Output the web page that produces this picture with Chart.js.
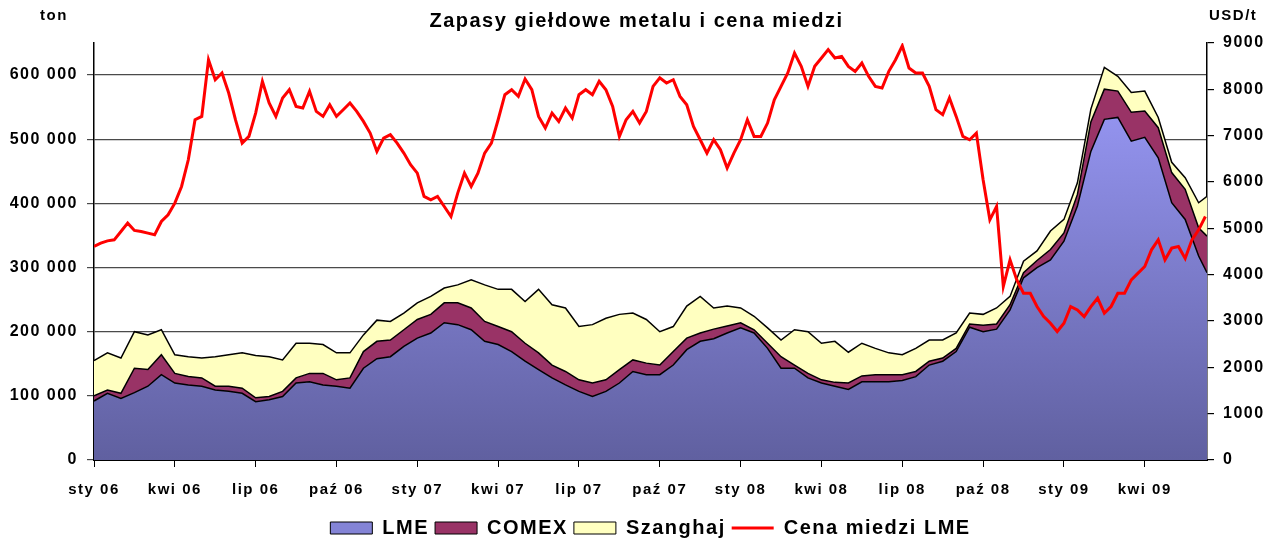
<!DOCTYPE html>
<html>
<head>
<meta charset="utf-8">
<script src="https://cdn.jsdelivr.net/npm/chart.js@4.4.1/dist/chart.umd.min.js"></script>
<style>
html,body{margin:0;padding:0;background:#fff;}
canvas{display:block;}
</style>
</head>
<body>
<canvas id="c" width="1273" height="540"></canvas>
<script>
// ---- text ----
const chartTitle = 'Zapasy giełdowe metalu i cena miedzi';
const leftUnit = 'ton';
const rightUnit = 'USD/t';

// ---- axes ----
const tickMonths = [0, 3, 6, 9, 12, 15, 18, 21, 24, 27, 30, 33, 36, 39];
const tickLabels = ['sty 06', 'kwi 06', 'lip 06', 'paź 06', 'sty 07', 'kwi 07', 'lip 07', 'paź 07',
                    'sty 08', 'kwi 08', 'lip 08', 'paź 08', 'sty 09', 'kwi 09'];
const lastMonth = 41.31;
const stockTicks = [0, 100000, 200000, 300000, 400000, 500000, 600000];
const priceTicks = [0, 1000, 2000, 3000, 4000, 5000, 6000, 7000, 8000, 9000];

// ---- exchange stocks (tonnes), sampled twice a month ----
const stockMonths = [0,0.5,1,1.5,2,2.5,3,3.5,4,4.5,5,5.5,6,6.5,7,7.5,8,8.5,9,9.5,
  10,10.5,11,11.5,12,12.5,13,13.5,14,14.5,15,15.5,16,16.5,17,17.5,18,18.5,19,19.5,
  20,20.5,21,21.5,22,22.5,23,23.5,24,24.5,25,25.5,26,26.5,27,27.5,28,28.5,29,29.5,
  30,30.5,31,31.5,32,32.5,33,33.5,34,34.5,35,35.5,36,36.5,37,37.5,38,38.5,39,39.5,
  40,40.5,41,41.31];
const lmeStocks = [92000,104000,96000,105000,115000,133000,120000,117000,115000,109000,
  107000,104000,91000,94000,99000,120000,122000,117000,115000,112000,
  143000,158000,161000,177000,190000,198000,214000,211000,203000,185000,
  180000,169000,154000,141000,128000,117000,107000,99000,107000,120000,
  138000,133000,133000,148000,172000,185000,189000,198000,206000,198000,
  174000,143000,143000,128000,120000,115000,110000,122000,122000,122000,
  124000,130000,148000,154000,169000,207000,200000,204000,234000,284000,
  300000,312000,341000,396000,481000,531000,534000,497000,503000,471000,
  401000,375000,318000,292000];
const comexStocks = [8000,5000,8000,38000,26000,31000,15000,13000,13000,6000,
  8000,8000,6000,5000,8000,8000,13000,18000,10000,16000,
  26000,27000,26000,26000,29000,29000,31000,34000,34000,31000,
  28000,31000,28000,26000,20000,21000,18000,21000,18000,21000,
  18000,18000,15000,21000,18000,13000,15000,11000,8000,5000,
  8000,18000,5000,7000,5000,6000,10000,9000,11000,11000,
  9000,8000,6000,5000,5000,5000,10000,8000,8000,8000,
  11000,16000,13000,18000,46000,47000,41000,45000,41000,47000,
  47000,47000,44000,57000];
const shanghaiStocks = [55000,58000,55000,57000,54000,39000,29000,31000,31000,46000,
  49000,55000,66000,62000,49000,54000,47000,45000,42000,39000,
  26000,33000,29000,26000,26000,28000,23000,28000,44000,57000,
  58000,66000,65000,99000,94000,99000,83000,91000,96000,86000,
  73000,68000,52000,39000,50000,57000,33000,31000,23000,21000,
  24000,26000,55000,65000,57000,64000,48000,51000,41000,34000,
  31000,36000,33000,28000,24000,17000,17000,25000,13000,18000,
  15000,29000,21000,18000,20000,34000,23000,31000,31000,16000,
  16000,18000,39000,62000];

// ---- LME copper price (USD/t), sampled every quarter month from Jan 2006 ----
const priceStep = 0.25;
const copperPrice = [4608,4680,4730,4752,4932,5112,4954,4932,4896,4860,
  5148,5292,5544,5904,6480,7344,7416,8640,8208,8352,
  7920,7344,6840,6984,7488,8172,7704,7416,7812,7992,
  7632,7596,7956,7524,7416,7668,7416,7560,7704,7524,
  7308,7056,6660,6948,7020,6840,6624,6372,6192,5688,
  5616,5688,5472,5256,5760,6192,5904,6192,6624,6840,
  7344,7884,7992,7848,8222,7992,7416,7164,7488,7308,
  7596,7380,7884,7992,7884,8172,7992,7632,6984,7344,
  7524,7272,7524,8064,8250,8136,8208,7848,7668,7200,
  6912,6624,6912,6696,6300,6624,6912,7344,6984,6984,
  7272,7776,8064,8352,8784,8496,8064,8496,8676,8856,
  8676,8712,8496,8388,8568,8280,8064,8028,8388,8640,
  8940,8460,8352,8352,8064,7560,7452,7812,7416,6984,
  6912,7056,6048,5184,5472,3744,4320,3888,3600,3600,
  3312,3096,2952,2772,2952,3312,3240,3096,3312,3492,
  3168,3312,3600,3600,3888,4032,4176,4536,4752,4320,
  4572,4608,4350,4752,4968,5256];

const FONT = '"Liberation Sans", Arial, Helvetica, sans-serif';

function toPoints(xs, ys) { return ys.map((v, i) => ({ x: xs[i], y: v })); }
const priceMonths = copperPrice.map((v, k) => k * priceStep);

function lmeFill(ctx) {
  const ca = ctx.chart.chartArea;
  if (!ca) return '#8080d0';
  const g = ctx.chart.ctx.createLinearGradient(0, ca.top, 0, ca.bottom);
  g.addColorStop(0, '#9e9eff');
  g.addColorStop(1, '#6060a0');
  return g;
}
const legendFills = ['#8484d6', '#993366', '#ffffc0', '#ff0000'];

const spacingPlugin = {
  id: 'spacing',
  beforeLayout(c) { c.ctx.letterSpacing = '1.5px'; },
  beforeDraw(c) { c.ctx.letterSpacing = '1.5px'; }
};
const unitsPlugin = {
  id: 'units',
  afterDraw(c) {
    const x = c.ctx;
    x.save();
    x.letterSpacing = '1.5px';
    x.fillStyle = '#000';
    x.font = 'bold 15px ' + FONT;
    x.textAlign = 'left';
    x.textBaseline = 'middle';
    x.fillText(leftUnit, 40, 16);
    x.fillText(rightUnit, 1209, 16);
    x.restore();
  }
};

new Chart(document.getElementById('c'), {
  type: 'line',
  data: {
    datasets: [
      { label: 'LME', data: toPoints(stockMonths, lmeStocks), yAxisID: 'y', fill: 'origin',
        backgroundColor: lmeFill, borderColor: '#000', borderWidth: 1.5, pointRadius: 0, tension: 0, order: 1 },
      { label: 'COMEX', data: toPoints(stockMonths, comexStocks), yAxisID: 'y', fill: '-1',
        backgroundColor: '#993366', borderColor: '#000', borderWidth: 1.5, pointRadius: 0, tension: 0, order: 1 },
      { label: 'Szanghaj', data: toPoints(stockMonths, shanghaiStocks), yAxisID: 'y', fill: '-1',
        backgroundColor: '#ffffc0', borderColor: '#000', borderWidth: 1.5, pointRadius: 0, tension: 0, order: 1 },
      { label: 'Cena miedzi LME', data: toPoints(priceMonths, copperPrice), yAxisID: 'y1', fill: false,
        borderColor: '#ff0000', borderWidth: 3, pointRadius: 0, tension: 0, order: 0 }
    ]
  },
  options: {
    responsive: false,
    animation: false,
    devicePixelRatio: 1,
    layout: { padding: { top: 0, left: 0, right: 0, bottom: -8 } },
    plugins: {
      title: {
        display: true, text: chartTitle, color: '#000',
        font: { family: FONT, size: 20, weight: 'bold', lineHeight: 1.2 },
        padding: { top: 9, bottom: 10 }
      },
      tooltip: { enabled: false },
      legend: {
        position: 'bottom',
        fullSize: false,
        labels: {
          color: '#000',
          font: { family: FONT, size: 20, weight: 'bold' },
          usePointStyle: true,
          pointStyleWidth: 42,
          boxWidth: 42,
          boxHeight: 12,
          padding: 6,
          generateLabels: (c) => c.data.datasets.map((d, i) => ({
            text: d.label, datasetIndex: i, hidden: false,
            fillStyle: legendFills[i],
            strokeStyle: i === 3 ? '#ff0000' : '#000',
            lineWidth: i === 3 ? 3 : 1,
            pointStyle: i === 3 ? 'line' : 'rect',
            fontColor: '#000'
          }))
        }
      }
    },
    scales: {
      x: {
        type: 'linear', min: 0, max: lastMonth,
        afterBuildTicks: (s) => { s.ticks = tickMonths.map(v => ({ value: v })); },
        afterFit: (s) => { s.height = 52; },
        ticks: {
          autoSkip: false, maxRotation: 0, minRotation: 0, padding: 14, color: '#000',
          font: { family: FONT, size: 15, weight: 'bold' },
          callback: (v) => tickLabels[tickMonths.indexOf(v)]
        },
        grid: { drawOnChartArea: false, drawTicks: true, tickLength: 7, color: '#000', lineWidth: 1 },
        border: { display: true, color: '#000', width: 2 }
      },
      y: {
        type: 'linear', position: 'left', stacked: true, min: 0, max: 650000,
        afterBuildTicks: (s) => { s.ticks = stockTicks.map(v => ({ value: v })); },
        afterFit: (s) => { s.width = 94; },
        ticks: {
          autoSkip: false, padding: 9, color: '#000',
          font: { family: FONT, size: 16, weight: 'bold' },
          callback: (v) => String(Math.round(v)).replace(/\B(?=(\d{3})+(?!\d))/g, ' ')
        },
        grid: { color: '#4a4a4a', lineWidth: 1.2, tickLength: 7 },
        border: { display: true, color: '#000', width: 1.5 }
      },
      y1: {
        type: 'linear', position: 'right', stacked: false, min: 0, max: 9000,
        afterBuildTicks: (s) => { s.ticks = priceTicks.map(v => ({ value: v })); },
        afterFit: (s) => { s.width = 66; },
        ticks: {
          autoSkip: false, padding: 9, color: '#000',
          font: { family: FONT, size: 16, weight: 'bold' },
          callback: (v) => String(Math.round(v))
        },
        grid: { drawOnChartArea: false, tickLength: 7, color: '#000', lineWidth: 1.2 },
        border: { display: true, color: '#000', width: 1.5 }
      }
    }
  },
  plugins: [spacingPlugin, unitsPlugin]
});
</script>
</body>
</html>
